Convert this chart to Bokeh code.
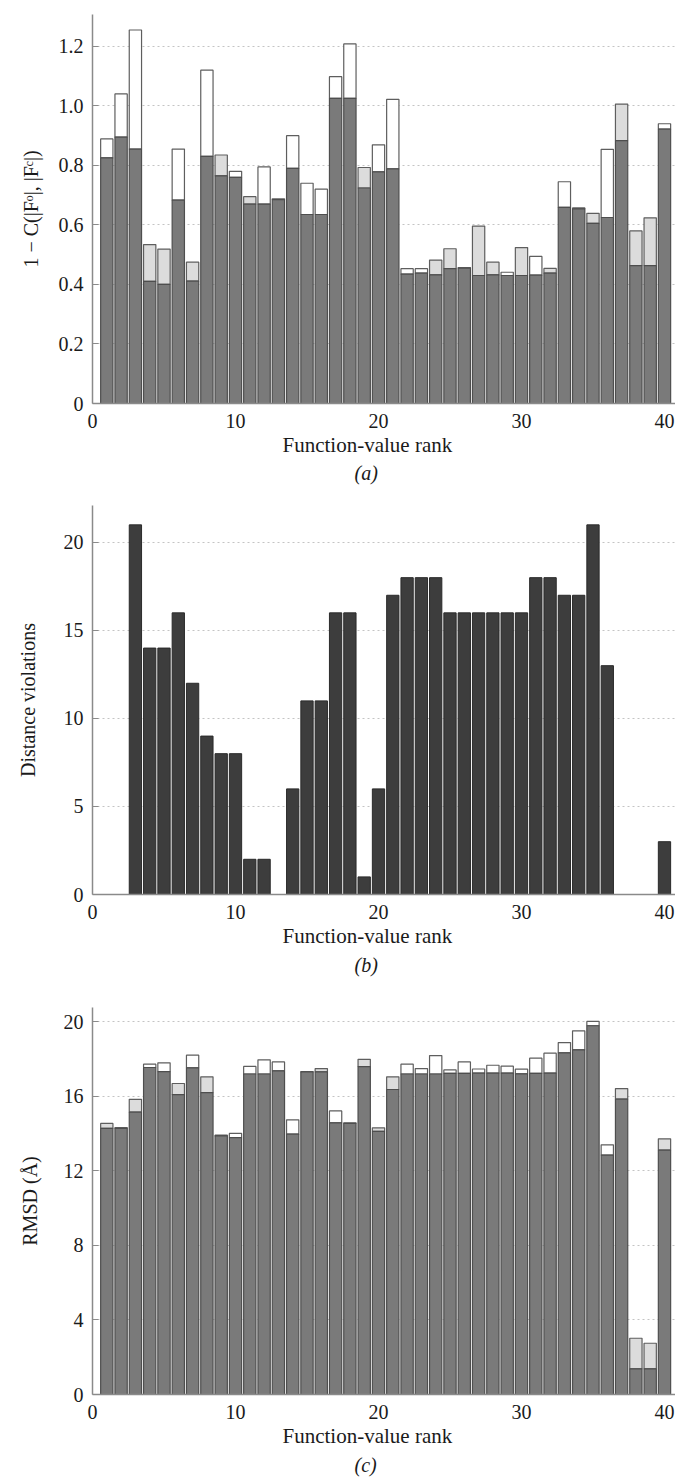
from bokeh.plotting import figure
from bokeh.models import Range1d, FixedTicker, Title, ColumnDataSource
from bokeh.layouts import column
from bokeh.embed import file_html
from bokeh.resources import INLINE

# ---------------- data ----------------
rank = list(range(1, 41))

# (a) 1 - C(|Fo|,|Fc|)
a_lower = [0.825, 0.895, 0.855, 0.41, 0.40, 0.683, 0.411, 0.83, 0.765, 0.76,
           0.67, 0.67, 0.685, 0.79, 0.635, 0.635, 1.025, 1.025, 0.724, 0.778,
           0.788, 0.435, 0.438, 0.432, 0.453, 0.455, 0.43, 0.432, 0.43, 0.43,
           0.431, 0.438, 0.659, 0.654, 0.605, 0.625, 0.883, 0.463, 0.463, 0.922]
a_upper = [0.889, 1.04, 1.255, 0.534, 0.519, 0.855, 0.475, 1.12, 0.835, 0.78,
           0.695, 0.795, 0.688, 0.90, 0.74, 0.72, 1.098, 1.208, 0.793, 0.869,
           1.022, 0.453, 0.453, 0.482, 0.52, 0.457, 0.596, 0.475, 0.441, 0.524,
           0.494, 0.454, 0.745, 0.657, 0.639, 0.854, 1.006, 0.58, 0.624, 0.94]
a_shaded = [0, 0, 0, 1, 1, 0, 1, 0, 1, 0,
            1, 0, 0, 0, 0, 0, 0, 0, 1, 0,
            0, 0, 0, 1, 1, 0, 1, 1, 0, 1,
            0, 1, 0, 0, 1, 0, 1, 1, 1, 0]

# (b) distance violations
b_viol = [0, 0, 21, 14, 14, 16, 12, 9, 8, 8,
          2, 2, 0, 6, 11, 11, 16, 16, 1, 6,
          17, 18, 18, 18, 16, 16, 16, 16, 16, 16,
          18, 18, 17, 17, 21, 13, 0, 0, 0, 3]

# (c) RMSD
c_lower = [14.28, 14.28, 15.15, 17.55, 17.33, 16.09, 17.53, 16.20, 13.88, 13.79,
           17.20, 17.20, 17.37, 13.97, 17.31, 17.31, 14.58, 14.55, 17.60, 14.12,
           16.37, 17.20, 17.20, 17.20, 17.23, 17.23, 17.25, 17.25, 17.25, 17.21,
           17.23, 17.25, 18.34, 18.50, 19.79, 12.85, 15.85, 1.38, 1.38, 13.12]
c_upper = [14.55, 14.33, 15.84, 17.73, 17.80, 16.69, 18.21, 17.05, 13.92, 14.01,
           17.61, 17.96, 17.85, 14.74, 17.33, 17.49, 15.22, 14.58, 17.99, 14.31,
           17.05, 17.73, 17.49, 18.19, 17.42, 17.85, 17.47, 17.67, 17.62, 17.46,
           18.05, 18.32, 18.89, 19.52, 20.02, 13.40, 16.42, 3.02, 2.75, 13.72]
c_shaded = [1, 0, 1, 0, 0, 1, 0, 1, 0, 0,
            0, 0, 0, 0, 0, 1, 0, 0, 1, 1,
            1, 0, 0, 0, 0, 0, 0, 0, 0, 0,
            0, 0, 0, 0, 0, 0, 1, 1, 1, 1]

x_ticks = [0, 10, 20, 30, 40]
x_tick_labels = ["0", "10", "20", "30", "40"]
a_ticks = [0, 0.2, 0.4, 0.6, 0.8, 1.0, 1.2]
a_tick_labels = ["0", "0.2", "0.4", "0.6", "0.8", "1.0", "1.2"]
b_ticks = [0, 5, 10, 15, 20]
b_tick_labels = ["0", "5", "10", "15", "20"]
c_ticks = [0, 4, 8, 12, 16, 20]
c_tick_labels = ["0", "4", "8", "12", "16", "20"]

x_label = "Function-value rank"
a_ylabel = "1 \u2212 C(|F\u1d52|, |F\u1d9c|)"
b_ylabel = "Distance violations"
c_ylabel = "RMSD (\u00c5)"

# ---------------- style ----------------
FONT = "Liberation Serif"
FS = "20px"
AX = "#8a8a8a"
TXT = "#1a1a1a"
BAR_W = 0.86
X_END = 40.77


def panel(height, b_top, b_bot, y_end, ticks, tick_labels, ylabel, ylab_stand,
          caption, lab_stand, cap_stand):
    p = figure(width=675, height=height, x_range=Range1d(0, X_END),
               y_range=Range1d(0, y_end), output_backend="svg",
               toolbar_location=None, min_border_left=92, min_border_right=0,
               min_border_top=b_top, min_border_bottom=b_bot)
    p.outline_line_color = None
    p.background_fill_color = "white"
    p.border_fill_color = "white"
    p.xgrid.visible = False
    p.ygrid.grid_line_color = "#c4c4c4"
    p.ygrid.grid_line_dash = "2 3"
    p.ygrid.grid_line_width = 1

    xa = p.xaxis[0]
    xa.ticker = FixedTicker(ticks=x_ticks)
    xa.major_label_overrides = dict(zip(x_ticks, x_tick_labels))
    xa.major_tick_in = 0
    xa.major_tick_out = 0
    xa.minor_tick_in = 0
    xa.minor_tick_out = 0
    xa.axis_line_color = AX
    xa.axis_line_width = 1.5
    xa.major_label_text_font = FONT
    xa.major_label_text_font_size = FS
    xa.major_label_text_color = TXT
    xa.major_label_standoff = 10

    ya = p.yaxis[0]
    ya.ticker = FixedTicker(ticks=ticks)
    ya.major_label_overrides = dict(zip(ticks, tick_labels))
    ya.major_tick_in = 6
    ya.major_tick_out = 0
    ya.major_tick_line_color = AX
    ya.minor_tick_in = 0
    ya.minor_tick_out = 0
    ya.axis_line_color = AX
    ya.axis_line_width = 1.5
    ya.major_label_text_font = FONT
    ya.major_label_text_font_size = FS
    ya.major_label_text_color = TXT
    ya.major_label_standoff = 9
    ya.axis_label = ylabel
    ya.axis_label_text_font = FONT
    ya.axis_label_text_font_size = FS
    ya.axis_label_text_font_style = "normal"
    ya.axis_label_text_color = TXT
    ya.axis_label_standoff = ylab_stand

    # x-axis title and panel caption, centred a little left of the frame centre
    p.add_layout(Title(text=x_label, align="left", offset=190,
                       text_font=FONT, text_font_size="21px",
                       text_font_style="normal", text_color=TXT,
                       standoff=lab_stand), "below")
    p.add_layout(Title(text=caption, align="left", offset=262,
                       text_font=FONT, text_font_size=FS,
                       text_font_style="italic", text_color=TXT,
                       standoff=cap_stand), "below")
    return p


def stacked(p, lower, upper, shaded):
    caps = ["#dcdcdc" if s else "#ffffff" for s in shaded]
    src = ColumnDataSource(dict(x=rank, lower=lower, upper=upper, cap=caps))
    p.vbar(x="x", bottom="lower", top="upper", width=BAR_W, source=src,
           fill_color="cap", line_color="#5e5e5e", line_width=1.2)
    p.vbar(x="x", bottom=0, top="lower", width=BAR_W, source=src,
           fill_color="#7a7a7a", line_color="#4e4e4e", line_width=1.2)


pa = panel(490, 14, 87, 1.307, a_ticks, a_tick_labels, a_ylabel, 14,
           "(a)", 0, 6)
stacked(pa, a_lower, a_upper, a_shaded)

pb = panel(500, 15, 96, 22.1, b_ticks, b_tick_labels, b_ylabel, 22,
           "(b)", 0, 8)
pb.vbar(x=rank, bottom=0, top=b_viol, width=BAR_W, fill_color="#3d3d3d",
        line_color="#2a2a2a", line_width=1)

pc = panel(494, 17, 90, 20.77, c_ticks, c_tick_labels, c_ylabel, 20,
           "(c)", 0, 8)
stacked(pc, c_lower, c_upper, c_shaded)

layout = column(pa, pb, pc, spacing=0)
open("out.html", "w").write(file_html(layout, INLINE))
